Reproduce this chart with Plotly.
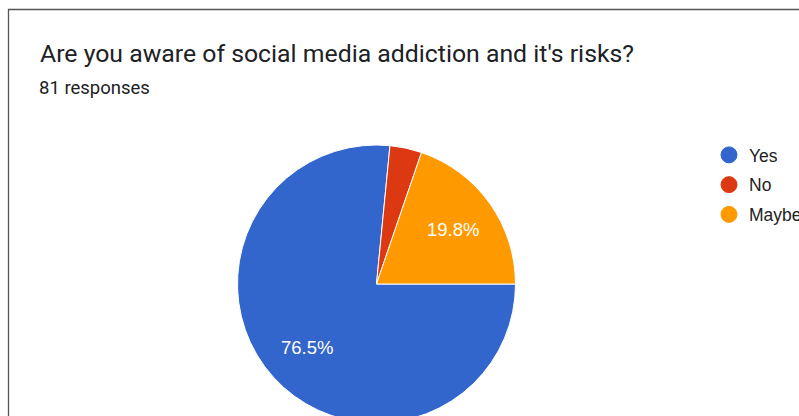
import math
import plotly.graph_objects as go

# ---- data ----
categories = ["Yes", "No", "Maybe"]
counts = [62, 3, 16]          # 81 responses -> 76.5%, 3.7%, 19.8%
colors = ["#3366CC", "#DC3912", "#FF9900"]
show_label = [True, False, True]
title_text = "Are you aware of social media addiction and it's risks?"
subtitle_text = "81 responses"

W, H = 799, 432

def px_x(v):
    return v / W

def px_y(v):
    return 1 - v / H

cx, cy, r = 376.5, 284, 139   # pie centre / radius in pixels

fig = go.Figure()

fig.add_trace(go.Pie(
    labels=categories,
    values=counts,
    marker=dict(colors=colors, line=dict(color="white", width=1)),
    sort=False,
    direction="clockwise",
    rotation=90,
    textinfo="none",
    showlegend=False,
    hoverinfo="label+value+percent",
    domain=dict(x=[px_x(cx - r), px_x(cx + r)],
                y=[px_y(cy + r), px_y(cy - r)]),
))

# legend entries (circular symbols like the original)
for name, col in zip(categories, colors):
    fig.add_trace(go.Scatter(
        x=[None], y=[None], mode="markers", name=name, legendgroup=name,
        marker=dict(color=col, size=16, line=dict(color=col, width=1)),
    ))

# percentage labels placed along each slice's mid-angle (Google Charts style)
total = sum(counts)
annotations = []
start = 90.0
for c, show in zip(counts, show_label):
    span = 360.0 * c / total
    mid = math.radians(start + span / 2)
    start += span
    if not show:
        continue
    lx = cx + 0.68 * r * math.sin(mid)
    ly = cy - 0.68 * r * math.cos(mid)
    annotations.append(dict(
        text=f"{100 * c / total:.1f}%", x=px_x(lx), y=px_y(ly),
        xref="paper", yref="paper", xanchor="center", yanchor="middle",
        showarrow=False,
        font=dict(family="Liberation Sans, Arial", size=18.5, color="white"),
    ))

annotations += [
    dict(text=title_text, x=px_x(38), y=px_y(53.5), xref="paper", yref="paper",
         xanchor="left", yanchor="middle", showarrow=False,
         font=dict(family="Roboto", size=24.8, color="#202124")),
    dict(text=subtitle_text, x=px_x(37), y=px_y(88), xref="paper", yref="paper",
         xanchor="left", yanchor="middle", showarrow=False,
         font=dict(family="Roboto", size=18.5, color="#202124")),
]

fig.update_layout(
    width=W, height=H,
    margin=dict(l=0, r=0, t=0, b=0, autoexpand=False),
    paper_bgcolor="white",
    plot_bgcolor="white",
    xaxis=dict(visible=False),
    yaxis=dict(visible=False),
    legend=dict(
        x=px_x(709), y=px_y(137), xanchor="left", yanchor="top",
        font=dict(family="Liberation Sans, Arial", size=17.5, color="#222222"),
        traceorder="grouped", tracegroupgap=4,
        bgcolor="rgba(0,0,0,0)",
    ),
    annotations=annotations,
    shapes=[
        dict(type="rect", xref="paper", yref="paper",
             x0=px_x(8.5), x1=px_x(830), y0=px_y(470), y1=px_y(9.5),
             line=dict(color="#555555", width=1.3), fillcolor="rgba(0,0,0,0)",
             layer="below"),
    ],
)

fig.write_html(
    "out.html",
    config={"displayModeBar": False},
    post_script="document.body.style.margin='0';document.body.style.overflow='hidden';"
                "document.documentElement.style.overflow='hidden';",
)
